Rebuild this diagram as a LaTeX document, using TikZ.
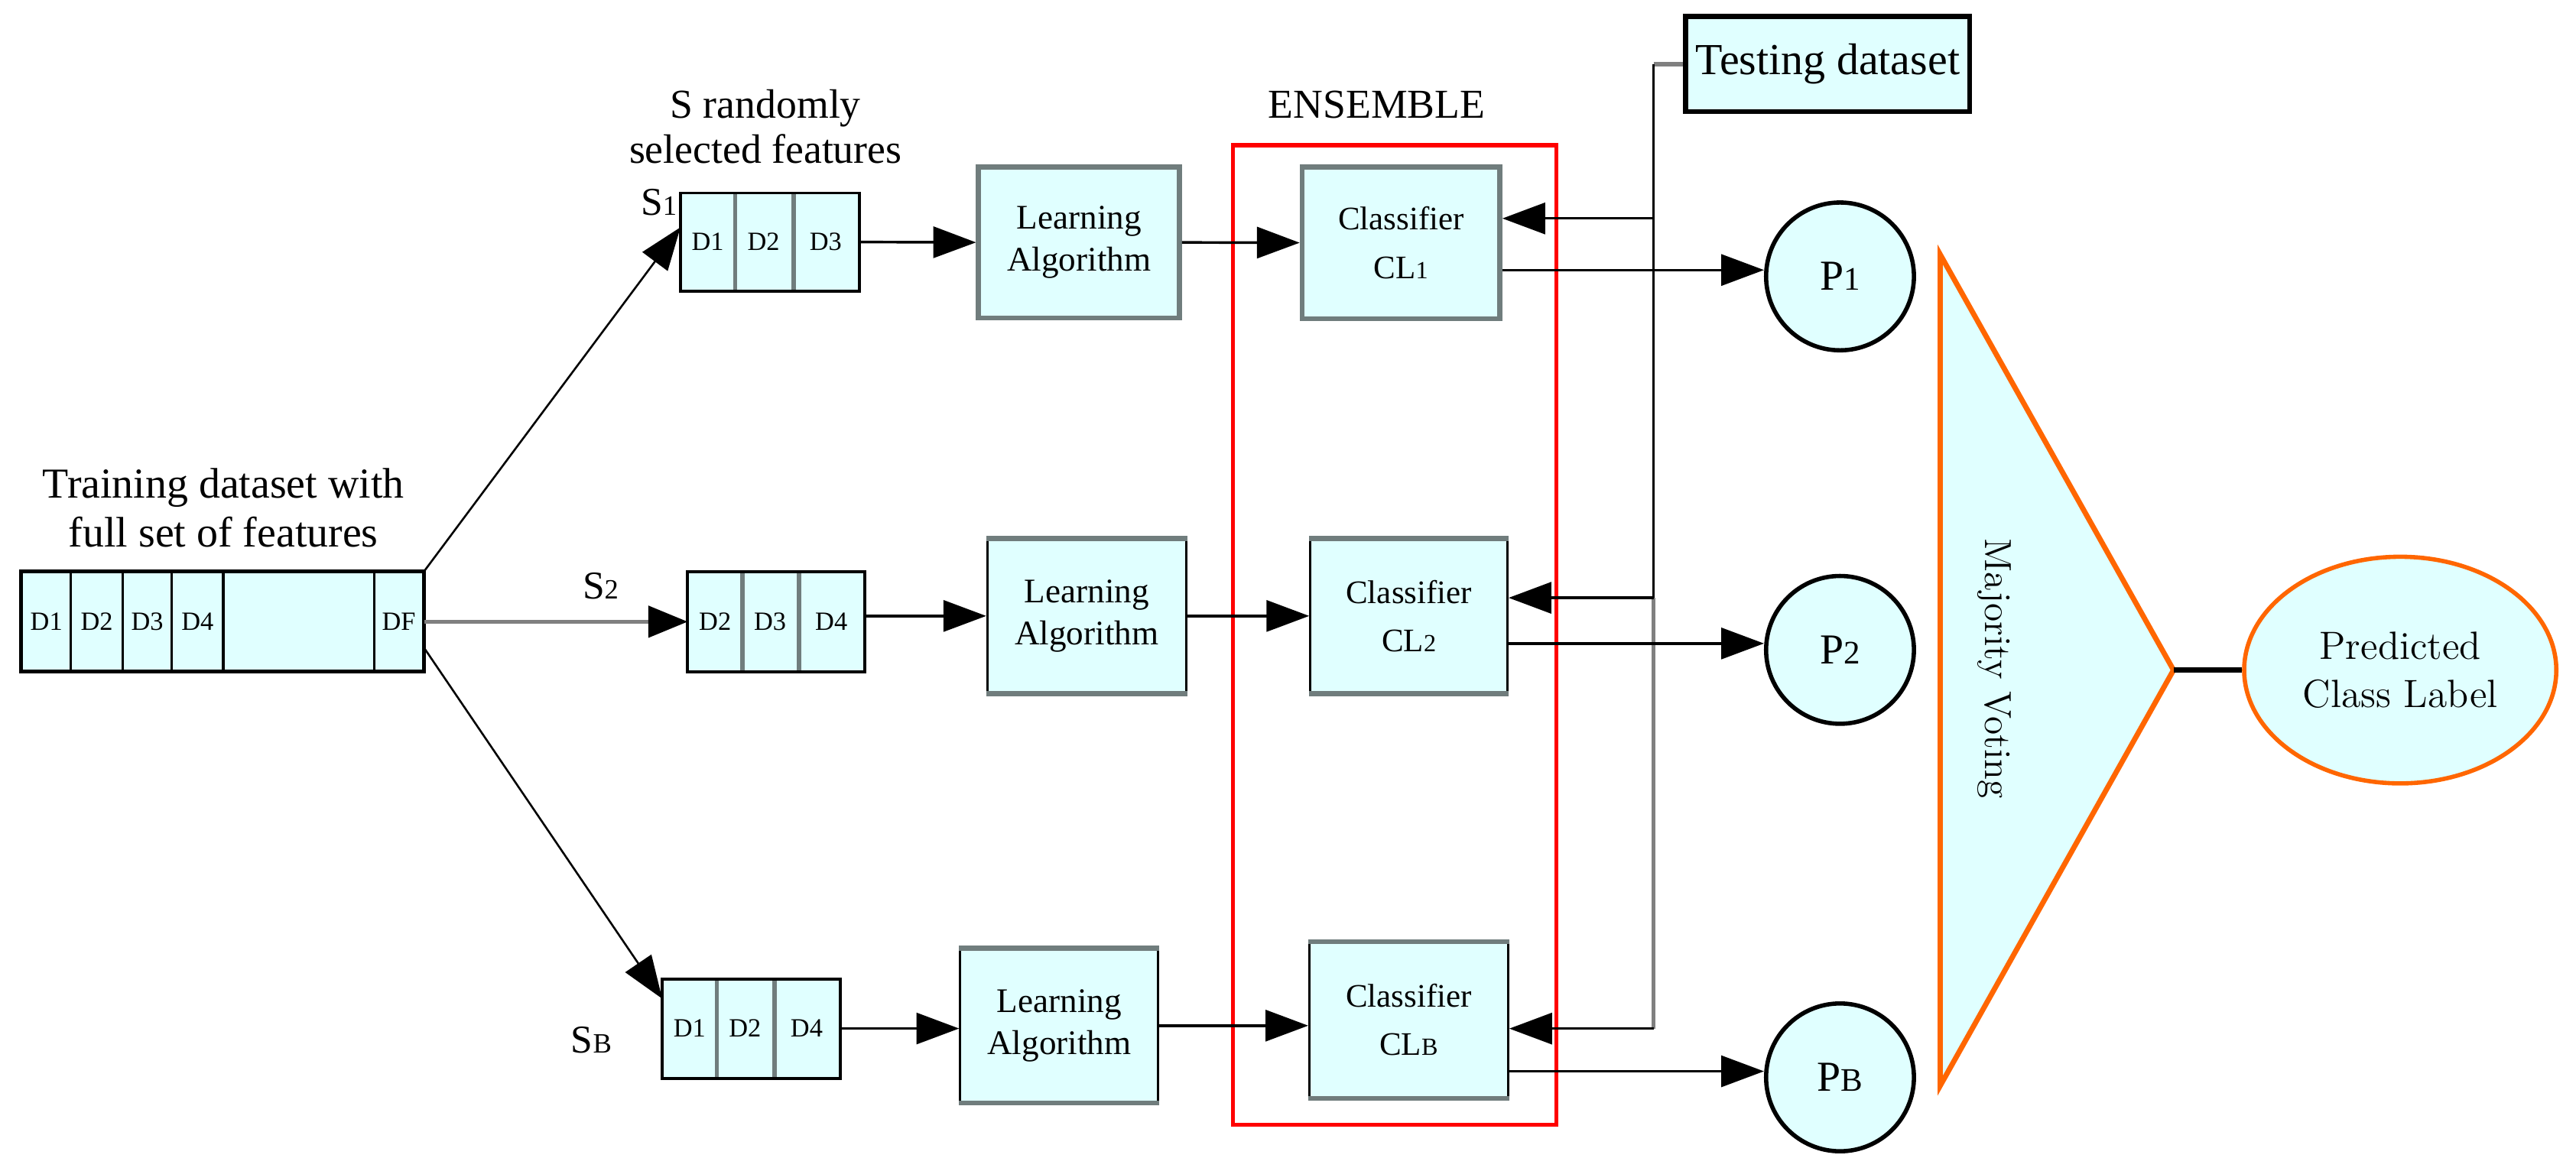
\documentclass[tikz,border=0pt]{standalone}
\usepackage{fontspec}
\newfontfamily\tnr{Liberation Serif}
\usetikzlibrary{arrows.meta,shapes.geometric,calc}
\definecolor{lc}{RGB}{224,255,255}
\definecolor{bgray}{RGB}{112,125,125}
\definecolor{lgray}{RGB}{128,128,128}
\definecolor{vred}{RGB}{255,0,0}
\definecolor{vorange}{RGB}{255,102,0}
\newcommand{\myfs}[2]{\fontsize{#1}{#2}\selectfont}
\begin{document}
\begin{tikzpicture}[x=0.5pt,y=-0.5pt,
  arr/.style={-{Triangle[length=13pt,width=9.5pt]}, line width=0.8pt},
  arrthin/.style={-{Triangle[length=13pt,width=9.5pt]}, line width=0.6pt},
  garr/.style={-{Triangle[length=12pt,width=9.5pt,color=black]}, lgray, line width=1.3pt},
  tcell/.style={rectangle, draw=black, line width=0.7pt, fill=lc, inner sep=0pt,
    minimum height=30.05pt, font=\tnr\myfs{8}{9}},
  scell/.style={rectangle, fill=lc, inner sep=0pt, font=\tnr\myfs{8}{9}},
  divider/.style={bgray, line width=1.3pt},
  sout/.style={black, line width=0.9pt},
  boxb/.style={rectangle, fill=lc, draw=black, line width=0.7pt, inner sep=0pt, align=center},
  boxg/.style={rectangle, fill=lc, draw=bgray, line width=1.5pt, inner sep=0pt, align=center},
  gbar/.style={bgray, line width=1.5pt},
  learnfont/.style={font=\tnr\myfs{10.5}{12.8}},
  clsfont/.style={font=\tnr\myfs{10}{14.7}},
  pnode/.style={circle, draw=black, line width=1.3pt, fill=lc, minimum size=45pt,
    inner sep=0pt, font=\tnr\myfs{13}{15}},
  slabel/.style={anchor=base, font=\tnr\myfs{12}{14}}
]
\useasboundingbox (0,0) rectangle (1568,713);

% ensemble frame
\node[rectangle, draw=vred, line width=1.2pt, minimum width=98.45pt, minimum height=298.3pt, inner sep=0pt] (ens) at (849.05,386.7) {};
\node[anchor=base, font=\tnr\myfs{12.5}{14}] (enslbl) at (838,72) {ENSEMBLE};

% training dataset
\node[align=center, font=\tnr\myfs{13}{14.7}] (trlbl) at (136,312.2) {\strut Training dataset with\\\strut full set of features};
\node[tcell, minimum width=14.85pt] (ta) at (28.25,378.55) {D1};
\node[tcell, minimum width=15.85pt] (tb) at (58.95,378.55) {D2};
\node[tcell, minimum width=14.85pt] (tc) at (89.65,378.55) {D3};
\node[tcell, minimum width=15.7pt] (td) at (120.2,378.55) {D4};
\node[tcell, minimum width=46.05pt] (te) at (181.95,378.55) {};
\node[tcell, minimum width=14.75pt] (tf) at (242.75,378.55) {DF};
\draw[line width=0.9pt] (ta.north west) rectangle (tf.south east);

% subset label
\node[align=center, font=\tnr\myfs{12.5}{13.65}] (srand) at (466,80.2) {\strut S randomly\\\strut selected features};

% S1 box
\node[scell, minimum width=16.2pt, minimum height=29.45pt] (s1a) at (430.8,147.35) {D1};
\node[scell, minimum width=17.8pt, minimum height=29.45pt] (s1b) at (464.8,147.35) {D2};
\node[scell, minimum width=20pt, minimum height=29.45pt] (s1c) at (502.6,147.35) {D3};
\draw[divider] (s1a.north east) -- (s1a.south east);
\draw[divider] (s1b.north east) -- (s1b.south east);
\draw[sout] (s1a.north west) rectangle (s1c.south east);
% S2 box
\node[scell, minimum width=16.25pt, minimum height=30.05pt] (s2a) at (435.25,378.55) {D2};
\node[scell, minimum width=17.25pt, minimum height=30.05pt] (s2b) at (468.75,378.55) {D3};
\node[scell, minimum width=20pt, minimum height=30.05pt] (s2c) at (506,378.55) {D4};
\draw[divider] (s2a.north east) -- (s2a.south east);
\draw[divider] (s2b.north east) -- (s2b.south east);
\draw[sout] (s2a.north west) rectangle (s2c.south east);
% SB box
\node[scell, minimum width=16.25pt, minimum height=29.85pt] (sba) at (419.75,626.25) {D1};
\node[scell, minimum width=17.5pt, minimum height=29.85pt] (sbb) at (453.5,626.25) {D2};
\node[scell, minimum width=20pt, minimum height=29.85pt] (sbc) at (491,626.25) {D4};
\draw[divider] (sba.north east) -- (sba.south east);
\draw[divider] (sbb.north east) -- (sbb.south east);
\draw[sout] (sba.north west) rectangle (sbc.south east);

% S labels
\node[slabel] (ls1) at (401,131) {S{\myfs{8.5}{9}1}};
\node[slabel] (ls2) at (365.6,364.5) {S{\myfs{8.5}{9}2}};
\node[slabel] (lsb) at (360,641) {S{\myfs{8.5}{9}B}};

% learning algorithm boxes
\node[boxg, learnfont, minimum width=61.2pt, minimum height=46pt] (L1) at (656.8,147.6) {Learning\\Algorithm};
\node[boxb, learnfont, minimum width=60.5pt, minimum height=46.55pt] (L2) at (661.5,375.05) {Learning\\Algorithm};
\node[boxb, learnfont, minimum width=60.25pt, minimum height=46.5pt] (L3) at (644.75,624.5) {Learning\\Algorithm};

% classifiers
\node[boxg, clsfont, minimum width=60.2pt, minimum height=46.2pt] (C1) at (852.8,147.8) {Classifier\\CL{\myfs{7.5}{8}1}};
\node[boxb, clsfont, minimum width=60pt, minimum height=46.55pt] (C2) at (857.6,375.05) {Classifier\\CL{\myfs{7.5}{8}2}};
\node[boxb, clsfont, minimum width=60.5pt, minimum height=47pt] (CB) at (857.5,621) {Classifier\\CL{\myfs{7.5}{8}B}};
\foreach \n in {L2,L3,C2,CB}{
  \draw[gbar] (\n.north west) -- (\n.north east);
  \draw[gbar] (\n.south west) -- (\n.south east);
}

% testing dataset
\node[rectangle, draw=black, line width=1.5pt, fill=lc, minimum width=86.5pt, minimum height=29pt, inner sep=0pt, font=\tnr\myfs{13.5}{15}] (T) at (1112.5,39) {Testing dataset};

% predictions
\node[pnode] (P1) at (1120,168.3) {P{\myfs{10}{10}1}};
\node[pnode] (P2) at (1120,395.7) {P{\myfs{10}{10}2}};
\node[pnode] (PB) at (1120,656) {P{\myfs{10}{10}B}};

% majority voting
\coordinate (tt) at (1181,155);
\coordinate (tb2) at (1181,661);
\coordinate (apex) at (1323,408);
\draw[vorange, line width=1.6pt, fill=lc, line join=miter] (tt) -- (apex) -- (tb2) -- cycle;
\node[rotate=-90, font=\myfs{11.5}{13}] (mv) at (1214,407) {Majority Voting};

\node[ellipse, draw=vorange, line width=1.3pt, fill=lc, minimum width=95pt, minimum height=69pt, inner sep=0pt, align=center, font=\myfs{12}{14.65}] (E) at (1461,408) {Predicted\\Class Label};
\draw[line width=1.6pt] (apex) -- (E.west);

% connectors from training set
\coordinate (s1tip) at ($(s1a.north west)!0.35!(s1a.south west)$);
\coordinate (tfl) at ($(tf.north east)!0.76!(tf.south east)$);
\coordinate (sbtip) at ($(sba.north west)!0.2!(sba.south west)$);
\draw[arrthin] (tf.north east) -- (s1tip);
\draw[garr] (tf.east) -- (s2a.west);
\draw[arrthin] (tfl) -- (sbtip);

% row arrows
\draw[arr] (s1c.east) -- (L1.west);
\draw[arr] (L1.east) -- (C1.west);
\draw[arr] (s2c.east |- L2.west) -- (L2.west);
\draw[arr] (L2.east) -- (C2.west);
\draw[arr] (sbc.east) -- (sbc.east -| L3.west);
\draw[arr] (L3.east) -- (L3.east -| CB.west);

% testing feedback
\coordinate (tstub) at (1006.5,39);
\coordinate (fb1) at (1006.5,133);
\coordinate (fb2) at (1006.5,364);
\coordinate (fbB) at (1006.5,626.3);
\draw[lgray, line width=1.5pt] (tstub) -- (T.west);
\draw[line width=0.8pt] (tstub) -- (fb2);
\draw[lgray, line width=1.2pt] (fb2) -- (fbB);
\draw[arr] (fb1) -- (fb1 -| C1.east);
\draw[arr] (fb2) -- (fb2 -| C2.east);
\draw[arr] (fbB) -- (fbB -| CB.east);

% outputs
\path (C1.east) ++(0,16.6) coordinate (o1);
\path (C2.east) ++(0,16.75) coordinate (o2);
\path (CB.east) ++(0,31.3) coordinate (oB);
\draw[arr] (o1) -- (o1 -| P1.west);
\draw[arr] (o2) -- (o2 -| P2.west);
\draw[arr] (oB) -- (oB -| PB.west);
\end{tikzpicture}
\end{document}
